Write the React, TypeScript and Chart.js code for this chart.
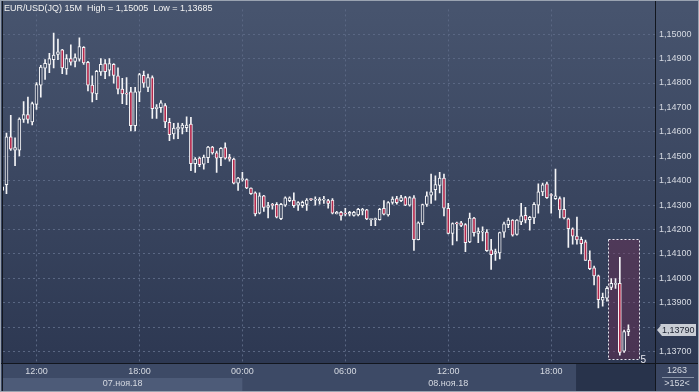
import React, { useEffect, useRef } from 'react';
import { Chart, registerables } from 'chart.js';
Chart.register(...registerables);

// 15-minute candles, EUR/USD, 07-08 Nov 2018 (index 0 = 10:00, 07.11)
const OPEN = [
  1.14375, 1.14384, 1.14579, 1.14525, 1.14525, 1.14651, 1.14671, 1.14641, 1.14712, 1.14791,
  1.14861, 1.14876, 1.14896, 1.14917, 1.14936, 1.14858, 1.14900, 1.14888, 1.14898, 1.14946,
  1.14885, 1.14791, 1.14755, 1.14845, 1.14880, 1.14853, 1.14876, 1.14829, 1.14775, 1.14759,
  1.14764, 1.14625, 1.14762, 1.14831, 1.14782, 1.14822, 1.14695, 1.14699, 1.14708, 1.14639,
  1.14591, 1.14611, 1.14615, 1.14617, 1.14632, 1.14470, 1.14492, 1.14467, 1.14494, 1.14538,
  1.14514, 1.14494, 1.14535, 1.14497, 1.14488, 1.14390, 1.14404, 1.14404, 1.14370, 1.14350,
  1.14267, 1.14338, 1.14290, 1.14300, 1.14303, 1.14244, 1.14300, 1.14318, 1.14320, 1.14300,
  1.14298, 1.14303, 1.14323, 1.14320, 1.14318, 1.14320, 1.14318, 1.14320, 1.14264, 1.14270,
  1.14264, 1.14263, 1.14258, 1.14260, 1.14276, 1.14280, 1.14240, 1.14240, 1.14240, 1.14287,
  1.14260, 1.14311, 1.14327, 1.14318, 1.14331, 1.14300, 1.14330, 1.14158, 1.14227, 1.14303,
  1.14340, 1.14363, 1.14380, 1.14411, 1.14287, 1.14184, 1.14224, 1.14227, 1.14220, 1.14149,
  1.14247, 1.14184, 1.14189, 1.14189, 1.14117, 1.14102, 1.14104, 1.14189, 1.14220, 1.14238,
  1.14180, 1.14231, 1.14258, 1.14240, 1.14247, 1.14300, 1.14354, 1.14387, 1.14340, 1.14326,
  1.14327, 1.14283, 1.14244, 1.14203, 1.14173, 1.14160, 1.14149, 1.14075, 1.14043, 1.14010,
  1.13910, 1.13919, 1.13963, 1.13975, 1.13979, 1.13701, 1.13781,
];
const HIGH = [
  1.14383, 1.14595, 1.14668, 1.14575, 1.14657, 1.14724, 1.14742, 1.14722, 1.14802, 1.14872,
  1.14896, 1.14922, 1.15005, 1.14980, 1.14938, 1.14916, 1.14956, 1.14920, 1.14985, 1.14949,
  1.14889, 1.14829, 1.14852, 1.14900, 1.14896, 1.14900, 1.14880, 1.14862, 1.14819, 1.14822,
  1.14782, 1.14782, 1.14840, 1.14849, 1.14837, 1.14829, 1.14712, 1.14728, 1.14716, 1.14655,
  1.14635, 1.14636, 1.14635, 1.14661, 1.14659, 1.14494, 1.14497, 1.14505, 1.14541, 1.14541,
  1.14521, 1.14535, 1.14555, 1.14508, 1.14492, 1.14414, 1.14434, 1.14407, 1.14371, 1.14354,
  1.14350, 1.14340, 1.14311, 1.14307, 1.14310, 1.14307, 1.14334, 1.14334, 1.14350, 1.14314,
  1.14316, 1.14327, 1.14327, 1.14334, 1.14331, 1.14336, 1.14323, 1.14327, 1.14274, 1.14274,
  1.14287, 1.14274, 1.14274, 1.14287, 1.14287, 1.14283, 1.14243, 1.14247, 1.14287, 1.14318,
  1.14314, 1.14334, 1.14336, 1.14340, 1.14336, 1.14335, 1.14339, 1.14231, 1.14304, 1.14354,
  1.14427, 1.14420, 1.14434, 1.14427, 1.14307, 1.14227, 1.14230, 1.14233, 1.14224, 1.14267,
  1.14250, 1.14207, 1.14211, 1.14200, 1.14160, 1.14120, 1.14189, 1.14230, 1.14247, 1.14240,
  1.14240, 1.14307, 1.14291, 1.14254, 1.14310, 1.14387, 1.14390, 1.14394, 1.14347, 1.14447,
  1.14334, 1.14331, 1.14247, 1.14207, 1.14251, 1.14169, 1.14157, 1.14113, 1.14050, 1.14013,
  1.13939, 1.13966, 1.13999, 1.13999, 1.14086, 1.13788, 1.13809,
];
const LOW = [
  1.14347, 1.14347, 1.14524, 1.14461, 1.14501, 1.14639, 1.14635, 1.14628, 1.14692, 1.14742,
  1.14815, 1.14842, 1.14862, 1.14896, 1.14838, 1.14835, 1.14873, 1.14866, 1.14889, 1.14876,
  1.14768, 1.14722, 1.14732, 1.14831, 1.14818, 1.14829, 1.14799, 1.14755, 1.14715, 1.14711,
  1.14604, 1.14604, 1.14724, 1.14782, 1.14764, 1.14655, 1.14655, 1.14679, 1.14617, 1.14564,
  1.14571, 1.14572, 1.14591, 1.14601, 1.14441, 1.14434, 1.14457, 1.14447, 1.14474, 1.14508,
  1.14434, 1.14461, 1.14488, 1.14480, 1.14387, 1.14360, 1.14398, 1.14367, 1.14344, 1.14256,
  1.14264, 1.14274, 1.14247, 1.14283, 1.14247, 1.14240, 1.14294, 1.14314, 1.14290, 1.14278,
  1.14290, 1.14278, 1.14318, 1.14300, 1.14304, 1.14307, 1.14287, 1.14264, 1.14264, 1.14238,
  1.14256, 1.14256, 1.14254, 1.14256, 1.14260, 1.14240, 1.14216, 1.14216, 1.14238, 1.14260,
  1.14254, 1.14304, 1.14304, 1.14314, 1.14298, 1.14295, 1.14114, 1.14157, 1.14220, 1.14294,
  1.14307, 1.14320, 1.14350, 1.14256, 1.14182, 1.14137, 1.14153, 1.14211, 1.14109, 1.14146,
  1.14173, 1.14146, 1.14153, 1.14110, 1.14036, 1.14073, 1.14079, 1.14167, 1.14207, 1.14173,
  1.14177, 1.14220, 1.14227, 1.14197, 1.14224, 1.14267, 1.14338, 1.14327, 1.14267, 1.14323,
  1.14247, 1.14243, 1.14126, 1.14140, 1.14140, 1.14100, 1.14073, 1.14035, 1.13973, 1.13879,
  1.13886, 1.13906, 1.13953, 1.13959, 1.13685, 1.13696, 1.13765,
];
const CLOSE = [
  1.14360, 1.14579, 1.14529, 1.14535, 1.14652, 1.14671, 1.14651, 1.14716, 1.14794, 1.14865,
  1.14881, 1.14900, 1.14914, 1.14928, 1.14862, 1.14900, 1.14885, 1.14904, 1.14949, 1.14882,
  1.14791, 1.14758, 1.14848, 1.14876, 1.14846, 1.14880, 1.14831, 1.14775, 1.14755, 1.14754,
  1.14625, 1.14764, 1.14835, 1.14799, 1.14822, 1.14695, 1.14701, 1.14719, 1.14641, 1.14588,
  1.14615, 1.14619, 1.14628, 1.14628, 1.14470, 1.14488, 1.14465, 1.14497, 1.14537, 1.14514,
  1.14492, 1.14532, 1.14492, 1.14488, 1.14390, 1.14411, 1.14406, 1.14370, 1.14347, 1.14264,
  1.14338, 1.14290, 1.14298, 1.14299, 1.14250, 1.14303, 1.14330, 1.14330, 1.14298, 1.14310,
  1.14311, 1.14320, 1.14322, 1.14322, 1.14323, 1.14322, 1.14307, 1.14267, 1.14270, 1.14256,
  1.14263, 1.14270, 1.14270, 1.14283, 1.14283, 1.14243, 1.14242, 1.14242, 1.14283, 1.14263,
  1.14310, 1.14324, 1.14310, 1.14331, 1.14300, 1.14331, 1.14158, 1.14227, 1.14302, 1.14338,
  1.14354, 1.14384, 1.14411, 1.14287, 1.14184, 1.14224, 1.14223, 1.14217, 1.14146, 1.14247,
  1.14187, 1.14193, 1.14191, 1.14113, 1.14097, 1.14109, 1.14187, 1.14223, 1.14238, 1.14177,
  1.14238, 1.14256, 1.14238, 1.14250, 1.14303, 1.14354, 1.14383, 1.14330, 1.14339, 1.14338,
  1.14280, 1.14247, 1.14203, 1.14173, 1.14157, 1.14142, 1.14073, 1.14039, 1.14010, 1.13912,
  1.13922, 1.13959, 1.13979, 1.13977, 1.13696, 1.13782, 1.13790,
];

const PRICE_TICKS = [1.137, 1.138, 1.139, 1.14, 1.141, 1.142, 1.143, 1.144, 1.145, 1.146, 1.147, 1.148, 1.149, 1.15];
const TIME_TICKS = [8, 32, 56, 80, 104, 128];
const TIME_LABELS = ['12:00', '18:00', '00:00', '06:00', '12:00', '18:00'];
const DAY_LABELS = ['07.ноя.18', '08.ноя.18'];
const DAY_RANGES = [[-40, 56], [56, 152]];
const TITLE = 'EUR/USD(JQ) 15M  High = 1,15005  Low = 1,13685';
const LAST_PRICE = 1.1379;
const BAR_COUNT = '1263';
const VISIBLE_COUNT = '>152<';
const BOX_COUNT = '5';
const BOX_X = [141.2, 148.4];
const BOX_Y = [1.141625, 1.13669];
const FUTURE_START = 133.8;

const X_MIN = 0.19;
const X_MAX = 152.2;
const Y_MIN = 1.13653;
const Y_MAX = 1.151015;

const FONT = '"Liberation Sans", Arial, sans-serif';
const UP_FILL = '#35405a';
const DOWN_FILL = '#b3284c';
const GRID = '#5a6783';
const LINE = '#12161e';

const fmt = (v: number) => v.toFixed(5).replace('.', ',');

const decor = {
  id: 'decor',
  beforeDraw(chart: any) {
    const { ctx, chartArea: a, width, height } = chart;
    const x = chart.scales.x;
    ctx.save();
    ctx.fillStyle = '#3a4662';
    ctx.fillRect(0, 0, width, height);
    const g = ctx.createLinearGradient(0, a.top, 0, a.bottom);
    g.addColorStop(0, '#47546e');
    g.addColorStop(1, '#2d3852');
    ctx.fillStyle = g;
    ctx.fillRect(0, 0, width, a.bottom);
    // bottom time panel
    ctx.fillStyle = '#3d4a66';
    ctx.fillRect(0, a.bottom, a.right, height - a.bottom);
    const p0 = Math.max(a.left, x.getPixelForValue(DAY_RANGES[0][0]));
    const p1 = x.getPixelForValue(DAY_RANGES[0][1]);
    ctx.fillStyle = '#4d5b78';
    ctx.fillRect(p0, a.bottom + 15, p1 - p0, height - a.bottom - 16);
    const f = x.getPixelForValue(FUTURE_START);
    ctx.fillStyle = '#28334b';
    ctx.fillRect(f, a.bottom + 1, a.right - f, height - a.bottom - 2);
    ctx.restore();
  },
  beforeDatasetsDraw(chart: any) {
    const { ctx } = chart;
    const x = chart.scales.x;
    const y = chart.scales.y;
    const bx0 = Math.round(x.getPixelForValue(BOX_X[0])) + 0.5;
    const bx1 = Math.round(x.getPixelForValue(BOX_X[1])) + 0.5;
    const by0 = Math.round(y.getPixelForValue(BOX_Y[0])) + 0.5;
    const by1 = Math.round(y.getPixelForValue(BOX_Y[1])) + 0.5;
    ctx.save();
    ctx.fillStyle = 'rgba(120,45,85,0.38)';
    ctx.fillRect(bx0, by0, bx1 - bx0, by1 - by0);
    ctx.restore();
  },
  afterDraw(chart: any) {
    const { ctx, chartArea: a, width, height } = chart;
    const x = chart.scales.x;
    const y = chart.scales.y;
    ctx.save();
    // selection box border
    const bx0 = Math.round(x.getPixelForValue(BOX_X[0])) + 0.5;
    const bx1 = Math.round(x.getPixelForValue(BOX_X[1])) + 0.5;
    const by0 = Math.round(y.getPixelForValue(BOX_Y[0])) + 0.5;
    const by1 = Math.round(y.getPixelForValue(BOX_Y[1])) + 0.5;
    ctx.strokeStyle = '#e8e8f0';
    ctx.lineWidth = 1;
    ctx.setLineDash([2, 2]);
    ctx.strokeRect(bx0, by0, bx1 - bx0, by1 - by0);
    ctx.setLineDash([]);
    ctx.font = `10px ${FONT}`;
    ctx.fillStyle = '#e8e8f0';
    ctx.textAlign = 'left';
    ctx.textBaseline = 'alphabetic';
    ctx.fillText(BOX_COUNT, bx1 + 1, by1 + 3);

    // title
    ctx.font = `9px ${FONT}`;
    ctx.fillStyle = '#f2f2f2';
    ctx.textBaseline = 'middle';
    ctx.fillText(TITLE, 4, 9);

    // separators
    ctx.strokeStyle = LINE;
    ctx.beginPath();
    ctx.moveTo(a.right + 0.5, 0);
    ctx.lineTo(a.right + 0.5, height);
    ctx.moveTo(0, a.bottom + 0.5);
    ctx.lineTo(width, a.bottom + 0.5);
    ctx.moveTo(2.5, 0);
    ctx.lineTo(2.5, height);
    ctx.stroke();

    // day labels
    ctx.fillStyle = '#d6dae2';
    ctx.textAlign = 'center';
    DAY_LABELS.forEach((lab, k) => {
      const lo = Math.max(DAY_RANGES[k][0], X_MIN);
      const hi = Math.min(DAY_RANGES[k][1], X_MAX);
      ctx.fillText(lab, x.getPixelForValue((lo + hi) / 2), a.bottom + 21);
    });

    // right-bottom counters
    const cx = (a.right + width) / 2;
    ctx.fillText(BAR_COUNT, cx, a.bottom + 8);
    ctx.fillText(VISIBLE_COUNT, cx, a.bottom + 21);
    ctx.strokeStyle = '#8792a6';
    ctx.beginPath();
    ctx.moveTo(a.right + 7, a.bottom + 14.5);
    ctx.lineTo(width - 5, a.bottom + 14.5);
    ctx.stroke();

    // last price tag
    const py = Math.round(y.getPixelForValue(LAST_PRICE));
    ctx.fillStyle = '#c9cdd5';
    ctx.beginPath();
    ctx.moveTo(a.right + 2, py);
    ctx.lineTo(a.right + 7, py - 6);
    ctx.lineTo(width - 3, py - 6);
    ctx.lineTo(width - 3, py + 6);
    ctx.lineTo(a.right + 7, py + 6);
    ctx.closePath();
    ctx.fill();
    ctx.fillStyle = '#1d2331';
    ctx.textAlign = 'left';
    ctx.fillText(fmt(LAST_PRICE), a.right + 7, py + 0.5);

    // outer frame
    ctx.strokeStyle = '#9aa3b1';
    ctx.strokeRect(0.5, 0.5, width - 1, height - 1);
    ctx.restore();
  },
};

export default function App() {
  const ref = useRef<HTMLCanvasElement>(null);
  useEffect(() => {
    if (!ref.current) return;
    const idx = OPEN.map((_, i) => i);
    const chart = new Chart(ref.current, {
      type: 'bar',
      data: {
        datasets: [
          {
            label: 'body',
            data: idx.map((i) => ({ x: i, y: [OPEN[i], CLOSE[i]] })) as any,
            backgroundColor: idx.map((i) => (CLOSE[i] >= OPEN[i] ? UP_FILL : DOWN_FILL)),
            borderColor: '#f4f4f6',
            borderWidth: 1,
            borderSkipped: false,
            barThickness: 3,
            minBarLength: 1,
            stack: 'c',
            order: 1,
          } as any,
          {
            label: 'wick',
            data: idx.map((i) => ({ x: i, y: [LOW[i], HIGH[i]] })) as any,
            backgroundColor: '#f4f4f6',
            borderWidth: 0,
            barThickness: 1,
            minBarLength: 1,
            stack: 'c',
            order: 2,
          } as any,
        ],
      },
      options: {
        animation: false,
        responsive: false,
        devicePixelRatio: 1,
        layout: { padding: { left: 3, top: 2, right: 0, bottom: 0 }, autoPadding: false } as any,
        plugins: { legend: { display: false }, tooltip: { enabled: false }, title: { display: false } },
        events: [],
        scales: {
          x: {
            type: 'linear',
            position: 'bottom',
            min: X_MIN,
            max: X_MAX,
            offset: false,
            grid: { color: GRID, lineWidth: 1, drawTicks: false, offset: false },
            border: { display: true, color: LINE, dash: [2, 3] },
            afterBuildTicks: (axis: any) => {
              axis.ticks = TIME_TICKS.map((v) => ({ value: v }));
            },
            afterFit: (axis: any) => {
              axis.height = 29;
            },
            ticks: {
              autoSkip: false,
              maxRotation: 0,
              padding: 3,
              color: '#d6dae2',
              font: { family: FONT, size: 9 },
              callback: (v: any) => {
                const k = TIME_TICKS.indexOf(Number(v));
                return k >= 0 ? TIME_LABELS[k] : '';
              },
            },
          } as any,
          y: {
            type: 'linear',
            position: 'right',
            min: Y_MIN,
            max: Y_MAX,
            stacked: false,
            beginAtZero: false,
            grid: { color: GRID, lineWidth: 1, drawTicks: false },
            border: { display: true, color: LINE, dash: [2, 3] },
            afterBuildTicks: (axis: any) => {
              axis.ticks = PRICE_TICKS.map((v) => ({ value: v }));
            },
            afterFit: (axis: any) => {
              axis.width = 44;
            },
            ticks: {
              autoSkip: false,
              padding: 4,
              color: '#d6dae2',
              font: { family: FONT, size: 9 },
              callback: (v: any) => fmt(Number(v)),
            },
          } as any,
        },
      },
      plugins: [decor],
    });
    return () => chart.destroy();
  }, []);
  return (
    <div style={{ position: 'fixed', left: 0, top: 0, width: 699, height: 392 }}>
      <canvas ref={ref} width={699} height={392} style={{ display: 'block', width: 699, height: 392 }} />
    </div>
  );
}
